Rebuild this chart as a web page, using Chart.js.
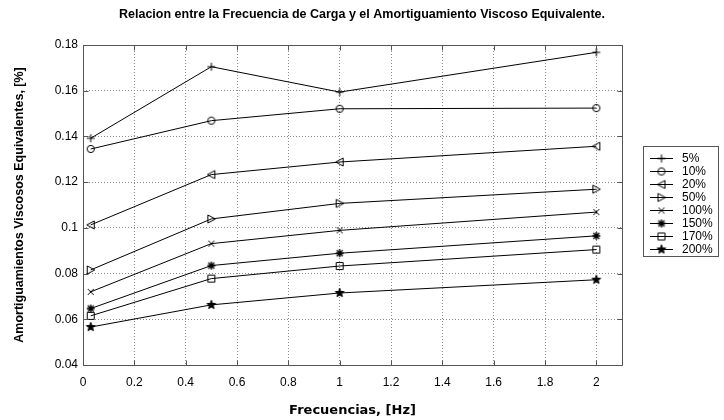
<!DOCTYPE html>
<html>
<head>
<meta charset="utf-8">
<script src="https://cdn.jsdelivr.net/npm/chart.js@4/dist/chart.umd.min.js"></script>
<style>
  html, body { margin: 0; padding: 0; background: #fff; }
  #wrap { width: 724px; height: 420px; }
</style>
</head>
<body>
<div id="wrap"><canvas id="c" width="724" height="420"></canvas></div>
<script>
// Load frequencies (Hz) at which damping was measured
const freqs = [0.03, 0.5, 1, 2];

// Equivalent viscous damping for each strain level
const seriesLabels = ['5%', '10%', '20%', '50%', '100%', '150%', '170%', '200%'];
const d5   = [0.1392, 0.1705, 0.1594, 0.1768];
const d10  = [0.1345, 0.1469, 0.1521, 0.1524];
const d20  = [0.1013, 0.1233, 0.1288, 0.1357];
const d50  = [0.0816, 0.1039, 0.1107, 0.1169];
const d100 = [0.0720, 0.0931, 0.0989, 0.1069];
const d150 = [0.0647, 0.0835, 0.0889, 0.0965];
const d170 = [0.0615, 0.0778, 0.0833, 0.0905];
const d200 = [0.0566, 0.0663, 0.0715, 0.0773];
const seriesValues = [d5, d10, d20, d50, d100, d150, d170, d200];
const markerKinds = ['plus', 'circle', 'triLeft', 'triRight', 'x', 'asterisk', 'square', 'pentagram'];

// Axis ticks
const xTicks = [0, 0.2, 0.4, 0.6, 0.8, 1, 1.2, 1.4, 1.6, 1.8, 2];
const xTickLabels = ['0', '0.2', '0.4', '0.6', '0.8', '1', '1.2', '1.4', '1.6', '1.8', '2'];
const yTicks = [0.04, 0.06, 0.08, 0.1, 0.12, 0.14, 0.16, 0.18];
const yTickLabels = ['0.04', '0.06', '0.08', '0.1', '0.12', '0.14', '0.16', '0.18'];

const FONT = 'Arial, "Liberation Sans", Helvetica, sans-serif';

// Small marker glyphs used both on the lines and in the legend
function makeMarker(kind) {
  const s = 14, m = 7;
  const c = document.createElement('canvas');
  c.width = s; c.height = s;
  const g = c.getContext('2d');
  g.strokeStyle = '#000';
  g.fillStyle = '#000';
  g.lineWidth = 1;
  g.beginPath();
  switch (kind) {
    case 'plus':
      g.moveTo(m - 4, m); g.lineTo(m + 4, m);
      g.moveTo(m, m - 4); g.lineTo(m, m + 4);
      break;
    case 'circle':
      g.arc(m, m, 3.6, 0, Math.PI * 2);
      break;
    case 'triLeft':
      g.moveTo(m - 4, m); g.lineTo(m + 3.5, m - 4); g.lineTo(m + 3.5, m + 4); g.closePath();
      break;
    case 'triRight':
      g.moveTo(m + 4, m); g.lineTo(m - 3.5, m - 4); g.lineTo(m - 3.5, m + 4); g.closePath();
      break;
    case 'x':
      g.moveTo(m - 3, m - 3); g.lineTo(m + 3, m + 3);
      g.moveTo(m - 3, m + 3); g.lineTo(m + 3, m - 3);
      break;
    case 'asterisk':
      g.lineWidth = 1.4;
      g.moveTo(m - 4, m); g.lineTo(m + 4, m);
      g.moveTo(m, m - 4); g.lineTo(m, m + 4);
      g.moveTo(m - 3, m - 3); g.lineTo(m + 3, m + 3);
      g.moveTo(m - 3, m + 3); g.lineTo(m + 3, m - 3);
      break;
    case 'square':
      g.rect(m - 3.5, m - 3.5, 7, 7);
      break;
    case 'pentagram': {
      const ro = 4.6, ri = 1.9;
      for (let i = 0; i < 10; i++) {
        const r = i % 2 === 0 ? ro : ri;
        const a = -Math.PI / 2 + i * Math.PI / 5;
        const px = m + r * Math.cos(a), py = m + r * Math.sin(a);
        if (i === 0) g.moveTo(px, py); else g.lineTo(px, py);
      }
      g.closePath();
      g.fill();
      break;
    }
  }
  g.stroke();
  return c;
}

const markers = markerKinds.map(makeMarker);

const datasets = seriesLabels.map((label, i) => ({
  label,
  data: freqs.map((f, j) => ({ x: f, y: seriesValues[i][j] })),
  borderColor: '#000',
  backgroundColor: '#000',
  borderWidth: 1,
  tension: 0,
  pointStyle: markers[i],
  pointRadius: 4,
  pointHoverRadius: 4
}));

// Solid axes box with inward tick marks
const axesBox = {
  id: 'axesBox',
  afterDraw(chart) {
    const { ctx, chartArea: a, scales } = chart;
    ctx.save();
    ctx.strokeStyle = '#555';
    ctx.lineWidth = 1;
    ctx.beginPath();
    const L = Math.round(a.left) + 0.5, R = Math.round(a.right) + 0.5;
    const T = Math.round(a.top) + 0.5, B = Math.round(a.bottom) + 0.5;
    ctx.rect(L, T, R - L, B - T);
    const tl = 5;
    scales.x.ticks.forEach(t => {
      const px = Math.round(scales.x.getPixelForValue(t.value)) + 0.5;
      ctx.moveTo(px, B); ctx.lineTo(px, B - tl);
      ctx.moveTo(px, T); ctx.lineTo(px, T + tl);
    });
    scales.y.ticks.forEach(t => {
      const py = Math.round(scales.y.getPixelForValue(t.value)) + 0.5;
      ctx.moveTo(L, py); ctx.lineTo(L + tl, py);
      ctx.moveTo(R, py); ctx.lineTo(R - tl, py);
    });
    ctx.stroke();
    ctx.restore();
  }
};

// Boxed legend: short line with the marker, then the label
const boxLegend = {
  id: 'boxLegend',
  afterDraw(chart) {
    const { ctx } = chart;
    const x0 = 643, y0 = 146, w = 75, rowH = 13, first = 158;
    const h = rowH * seriesLabels.length + 6;
    ctx.save();
    ctx.fillStyle = '#fff';
    ctx.fillRect(x0, y0, w, h);
    ctx.strokeStyle = '#555';
    ctx.lineWidth = 1;
    ctx.strokeRect(x0 + 0.5, y0 + 0.5, w, h);
    ctx.font = '12px ' + FONT;
    ctx.textBaseline = 'middle';
    ctx.textAlign = 'left';
    seriesLabels.forEach((lab, i) => {
      const y = first + i * rowH;
      ctx.strokeStyle = '#000';
      ctx.beginPath();
      ctx.moveTo(650, Math.round(y) + 0.5);
      ctx.lineTo(673, Math.round(y) + 0.5);
      ctx.stroke();
      ctx.drawImage(markers[i], 661.5 - 7, Math.round(y) + 0.5 - 7);
      ctx.fillStyle = '#000';
      ctx.fillText(lab, 682, y + 0.5);
    });
    ctx.restore();
  }
};

new Chart(document.getElementById('c'), {
  type: 'line',
  data: { datasets },
  options: {
    responsive: false,
    animation: false,
    devicePixelRatio: 1,
    layout: { padding: 0 },
    plugins: {
      legend: { display: false },
      tooltip: { enabled: false },
      title: {
        display: true,
        text: 'Relacion entre la Frecuencia de Carga y el Amortiguamiento Viscoso Equivalente.',
        color: '#000',
        font: { family: FONT, size: 12.5, weight: 'bold' },
        padding: { top: 7, bottom: 23 }
      }
    },
    scales: {
      x: {
        type: 'linear',
        min: 0,
        max: 2.1,
        afterBuildTicks(scale) { scale.ticks = xTicks.map(v => ({ value: v })); },
        afterFit(scale) { scale.height = 55; },
        ticks: {
          color: '#000',
          font: { family: FONT, size: 12 },
          padding: 10,
          maxRotation: 0,
          autoSkip: false,
          callback: (v) => { const k = xTicks.indexOf(v); return k >= 0 ? xTickLabels[k] : ''; }
        },
        grid: { color: '#8c8c8c', drawTicks: false, lineWidth: 1 },
        border: { display: false, dash: [1, 2] },
        title: {
          display: true,
          text: 'Frecuencias, [Hz]',
          color: '#000',
          font: { family: '"DejaVu Sans", ' + FONT, size: 13, weight: 'bold' },
          padding: { top: 0, bottom: 2 }
        }
      },
      y: {
        type: 'linear',
        min: 0.04,
        max: 0.18,
        afterBuildTicks(scale) { scale.ticks = yTicks.map(v => ({ value: v })); },
        afterFit(scale) { scale.width = 83; },
        ticks: {
          color: '#000',
          font: { family: FONT, size: 12 },
          padding: 5,
          autoSkip: false,
          callback: (v) => { const k = yTicks.findIndex(t => Math.abs(t - v) < 1e-9); return k >= 0 ? yTickLabels[k] : ''; }
        },
        grid: { color: '#8c8c8c', drawTicks: false, lineWidth: 1 },
        border: { display: false, dash: [1, 2] },
        title: {
          display: true,
          text: 'Amortiguamientos Viscosos Equivalentes, [%]',
          color: '#000',
          font: { family: FONT, size: 12.5, weight: 'bold' },
          padding: { top: 12, bottom: 0 }
        }
      },
      // empty right-hand band that holds the legend
      legendBand: {
        type: 'linear',
        position: 'right',
        display: true,
        afterFit(scale) { scale.width = 102; },
        ticks: { display: false },
        grid: { display: false, drawTicks: false },
        border: { display: false }
      }
    }
  },
  plugins: [axesBox, boxLegend]
});
</script>
</body>
</html>
